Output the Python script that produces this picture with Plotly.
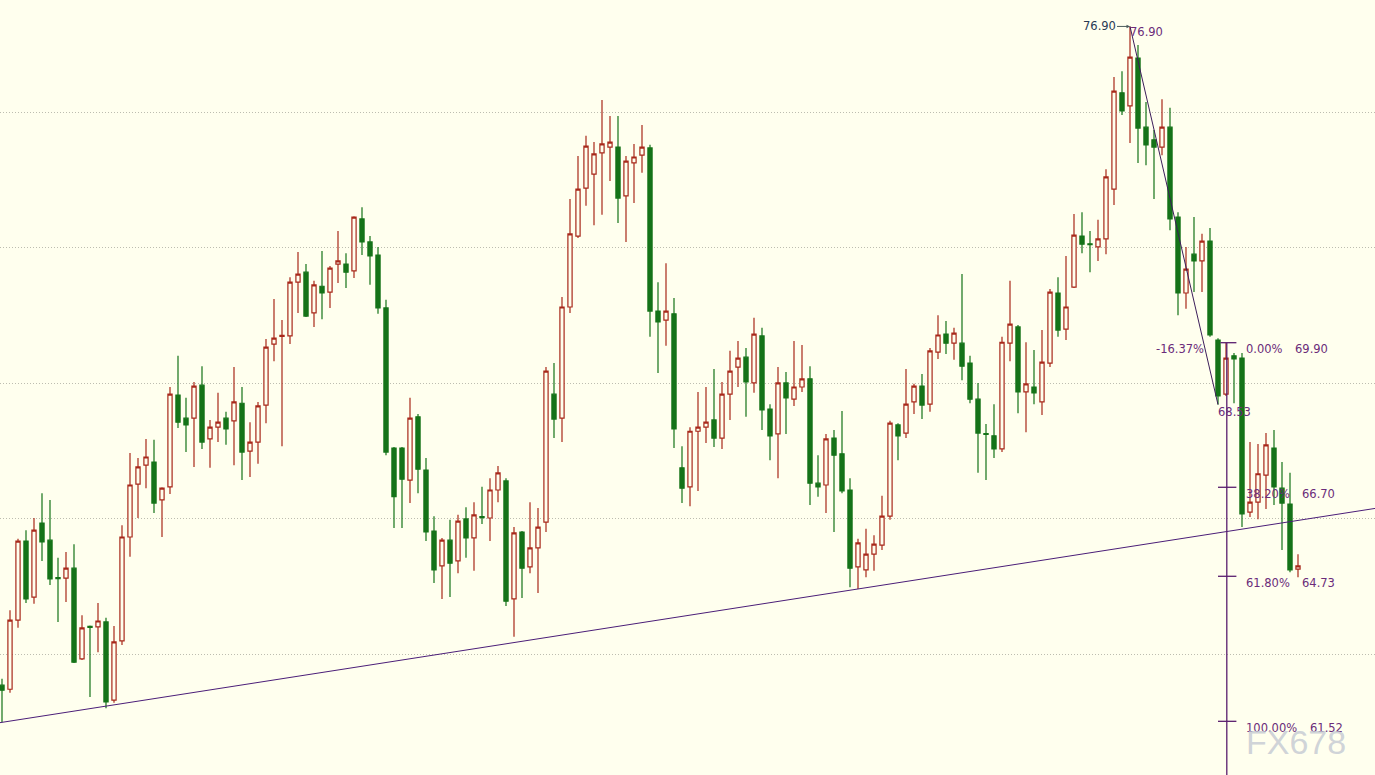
import plotly.graph_objects as go

# ---- candle data ----
opens = [62.32, 62.23, 63.76, 65.51, 64.27, 65.91, 65.53, 64.70, 64.69, 64.91,
         62.90, 63.62, 63.61, 63.72, 61.99, 63.30, 65.60, 66.77, 67.19, 67.26,
         66.42, 66.71, 68.74, 68.23, 68.23, 68.96, 67.77, 68.03, 68.23, 68.17,
         68.56, 67.50, 67.70, 68.52, 69.87, 70.04, 70.05, 71.24, 71.46, 70.56,
         71.15, 71.02, 71.64, 71.64, 71.49, 72.64, 72.13, 71.84, 70.67, 67.57,
         67.57, 66.86, 68.26, 67.08, 65.73, 64.96, 65.53, 65.07, 66.00, 65.58,
         66.05, 66.02, 66.64, 66.84, 64.23, 65.71, 64.94, 65.36, 65.93, 68.76,
         68.23, 70.69, 72.26, 73.32, 73.63, 74.10, 74.23, 74.23, 73.15, 73.88,
         74.05, 74.21, 70.60, 70.40, 70.54, 67.13, 66.71, 67.94, 68.03, 68.19,
         67.79, 68.76, 69.36, 69.58, 69.01, 70.05, 68.43, 67.88, 69.01, 68.65,
         68.92, 69.10, 66.79, 66.75, 67.79, 67.44, 66.64, 64.94, 64.87, 65.22,
         65.42, 66.06, 68.08, 67.90, 68.59, 68.94, 68.54, 69.69, 70.09, 69.89,
         69.89, 69.45, 68.65, 67.89, 67.84, 67.55, 69.89, 70.25, 68.81, 68.92,
         68.59, 69.45, 71.00, 70.20, 71.13, 72.26, 72.09, 72.02, 72.20, 73.30,
         75.43, 75.14, 76.20, 74.67, 74.39, 74.23, 74.67, 72.68, 71.00, 71.86,
         71.71, 72.15, 69.96, 68.76, 69.61, 69.56, 66.15, 66.37, 66.97, 67.57,
         66.68, 66.33, 64.89]
highs = [62.46, 63.98, 65.56, 65.75, 66.02, 66.57, 66.42, 65.14, 65.27, 65.44,
         63.87, 63.64, 64.14, 63.81, 63.63, 65.86, 67.46, 67.35, 67.77, 67.75,
         66.70, 68.92, 69.61, 68.68, 69.03, 69.38, 68.19, 68.79, 68.37, 69.36,
         68.92, 68.14, 68.59, 69.98, 70.87, 70.40, 71.35, 71.91, 71.64, 71.27,
         71.93, 71.60, 72.37, 71.88, 72.70, 72.90, 72.26, 72.02, 70.85, 67.59,
         67.59, 68.68, 68.32, 67.35, 66.06, 65.58, 65.98, 66.09, 66.26, 66.37,
         66.71, 66.90, 67.17, 66.90, 65.82, 65.73, 66.37, 66.24, 69.36, 69.45,
         70.91, 73.08, 74.03, 74.48, 74.34, 75.27, 74.92, 74.92, 74.03, 74.30,
         74.72, 74.28, 71.24, 71.66, 70.89, 67.61, 68.03, 68.81, 68.92, 69.32,
         69.03, 69.72, 69.94, 69.78, 70.45, 70.23, 68.54, 69.36, 69.25, 69.94,
         69.85, 69.38, 67.41, 67.88, 67.97, 68.39, 66.90, 65.56, 65.78, 65.64,
         66.51, 68.17, 68.12, 69.32, 68.99, 69.21, 69.78, 70.51, 70.38, 70.23,
         71.42, 69.61, 69.01, 68.10, 68.54, 70.03, 71.27, 70.29, 69.91, 69.74,
         70.18, 71.09, 71.35, 71.82, 72.75, 72.79, 72.37, 72.62, 73.74, 75.78,
         75.91, 76.90, 76.49, 75.23, 74.61, 75.29, 75.10, 72.79, 72.02, 72.68,
         72.31, 72.44, 70.00, 69.90, 69.67, 69.67, 67.70, 67.66, 67.90, 67.97,
         67.26, 67.02, 65.22]
lows = [61.50, 62.15, 63.59, 64.14, 64.12, 65.07, 64.54, 63.72, 64.16, 62.81,
        62.88, 62.06, 63.05, 61.81, 61.93, 63.21, 65.16, 66.02, 66.68, 66.13,
        65.60, 66.55, 68.01, 67.48, 67.15, 67.55, 67.13, 67.70, 67.64, 67.19,
        66.86, 66.93, 67.22, 68.12, 69.49, 67.61, 69.87, 70.56, 70.47, 70.25,
        70.42, 70.67, 71.22, 71.11, 71.33, 71.84, 71.18, 70.54, 67.41, 65.80,
        65.80, 66.35, 66.57, 65.51, 64.58, 64.23, 64.27, 64.80, 65.14, 64.85,
        65.89, 65.51, 66.37, 64.07, 63.39, 64.25, 64.80, 64.36, 65.71, 67.79,
        67.70, 70.56, 72.22, 72.93, 72.50, 72.73, 73.48, 72.55, 72.13, 72.99,
        73.66, 70.03, 69.23, 69.83, 67.57, 66.35, 66.28, 66.62, 67.68, 67.59,
        67.55, 68.19, 68.92, 68.26, 68.79, 67.97, 67.30, 66.90, 67.88, 68.50,
        68.81, 66.31, 66.49, 66.13, 65.71, 66.57, 64.49, 64.45, 64.71, 64.85,
        65.31, 65.98, 67.30, 67.79, 68.32, 68.21, 68.37, 69.54, 69.65, 69.52,
        69.07, 68.56, 67.02, 66.86, 67.35, 67.48, 69.49, 68.34, 67.92, 68.54,
        68.30, 69.36, 70.03, 69.96, 71.11, 71.88, 71.46, 71.71, 71.86, 72.95,
        74.94, 74.32, 73.88, 73.83, 73.08, 74.05, 72.39, 70.51, 70.65, 71.02,
        71.02, 70.03, 68.53, 68.72, 68.56, 65.82, 66.04, 65.99, 66.22, 66.31,
        65.31, 64.82, 64.71]
closes = [62.21, 63.76, 65.51, 64.23, 65.75, 65.49, 64.67, 64.68, 64.91, 62.83,
          63.59, 63.60, 63.74, 61.95, 63.28, 65.60, 66.75, 67.15, 67.37, 66.35,
          66.68, 68.76, 68.14, 68.08, 68.94, 67.70, 68.03, 68.14, 67.99, 68.59,
          67.48, 67.70, 68.50, 69.80, 70.00, 70.06, 71.24, 71.42, 70.49, 71.18,
          71.00, 71.55, 71.71, 71.46, 72.68, 72.13, 71.82, 70.67, 67.48, 66.49,
          66.88, 68.23, 67.10, 65.71, 64.87, 65.53, 65.02, 65.95, 65.58, 66.09,
          66.03, 66.64, 67.02, 64.18, 65.69, 64.91, 65.36, 65.82, 69.27, 68.21,
          70.69, 72.31, 73.30, 74.25, 74.08, 74.30, 74.34, 73.10, 73.92, 74.01,
          74.23, 70.60, 70.36, 70.60, 67.99, 66.68, 67.94, 68.03, 68.14, 67.79,
          68.76, 69.27, 69.56, 69.03, 70.09, 68.41, 67.84, 69.01, 68.68, 68.92,
          69.10, 66.79, 66.71, 67.77, 67.41, 66.62, 64.91, 65.47, 65.22, 65.44,
          66.06, 68.12, 67.84, 68.54, 68.94, 68.52, 69.72, 70.07, 69.89, 70.11,
          69.38, 68.65, 67.90, 67.87, 67.55, 69.91, 70.31, 68.81, 68.99, 68.79,
          69.47, 71.02, 70.18, 70.69, 72.28, 72.08, 72.07, 72.20, 73.57, 75.47,
          75.03, 76.22, 74.65, 74.28, 74.23, 74.67, 72.64, 71.00, 71.53, 71.71,
          72.15, 70.07, 68.72, 69.56, 69.54, 66.11, 66.37, 67.00, 67.64, 66.71,
          66.35, 64.87, 64.96]
bars = list(range(len(opens)))

grid_levels = [63, 66, 69, 72, 75]

# trend line (two anchor points)
trend_x = [-1, 173]
trend_y = [61.47, 66.27]

# swing line from the top to the low
swing_x = [141, 152]
swing_y = [76.90, 68.53]
high_value = 76.90
low_value = 68.53

# fibonacci retracement
fib_x = 153.1
fib_levels = [69.90, 66.70, 64.73, 61.52]
fib_pct = ["0.00%", "38.20%", "61.80%", "100.00%"]
fib_vals = ["69.90", "66.70", "64.73", "61.52"]
fib_val_x = [161.4, 162.3, 162.3, 163.2]
ext_label = "-16.37%"

RED = "#A8281A"
GREEN = "#157318"
BG = "#FFFFEE"
PURPLE = "#5A1E6E"
TXT = "#6B2C7A"

fig = go.Figure()
fig.add_trace(go.Candlestick(
    x=bars, open=opens, high=highs, low=lows, close=closes,
    increasing=dict(line=dict(color=RED, width=1.2), fillcolor=BG),
    decreasing=dict(line=dict(color=GREEN, width=1.2), fillcolor=GREEN),
    whiskerwidth=0, showlegend=False, hoverinfo="skip"))

fig.add_trace(go.Scatter(x=trend_x, y=trend_y, mode="lines",
                         line=dict(color="#4B1E78", width=1),
                         showlegend=False, hoverinfo="skip", cliponaxis=True))
fig.add_trace(go.Scatter(x=swing_x, y=swing_y, mode="lines",
                         line=dict(color="#3C1E5A", width=1),
                         showlegend=False, hoverinfo="skip"))

shapes = []
# vertical fib line
shapes.append(dict(type="line", xref="x", yref="y", x0=fib_x, x1=fib_x,
                   y0=fib_levels[0], y1=55, line=dict(color=PURPLE, width=1.3)))
for k, lv in enumerate(fib_levels):
    x0 = fib_x - 1.1 if k > 0 else fib_x - 0.8
    shapes.append(dict(type="line", xref="x", yref="y", x0=x0, x1=fib_x + 1.2,
                       y0=lv, y1=lv, line=dict(color=PURPLE, width=1.3)))

annotations = []
fnt = dict(family="DejaVu Sans", size=11.5, color=TXT)
for k, lv in enumerate(fib_levels):
    annotations.append(dict(x=155.2, y=lv, xref="x", yref="y", text=fib_pct[k],
                            showarrow=False, xanchor="left", yanchor="middle",
                            yshift=-6.5, font=fnt))
    annotations.append(dict(x=fib_val_x[k], y=lv, xref="x", yref="y", text=fib_vals[k],
                            showarrow=False, xanchor="left", yanchor="middle",
                            yshift=-6.5, font=fnt))
annotations.append(dict(x=150.5, y=fib_levels[0], xref="x", yref="y", text=ext_label,
                        showarrow=False, xanchor="right", yanchor="middle",
                        yshift=-6.5, font=fnt))
annotations.append(dict(x=swing_x[1], y=low_value, xref="x", yref="y",
                        text=f"{low_value:.2f}", showarrow=False, xanchor="left",
                        yanchor="middle", yshift=-7, xshift=-2, font=fnt))
annotations.append(dict(x=swing_x[0], y=high_value, xref="x", yref="y",
                        text=f"{high_value:.2f}", showarrow=False, xanchor="left",
                        yanchor="middle", yshift=-5.5, xshift=-2, font=fnt))
annotations.append(dict(x=swing_x[0], y=high_value, xref="x", yref="y",
                        text=f"{high_value:.2f}", showarrow=True, arrowhead=2,
                        arrowsize=0.7, arrowwidth=1, arrowcolor="#4A5A5A",
                        ax=-31, ay=0, font=dict(family="DejaVu Sans", size=11.5,
                                                color="#2A3A55")))
annotations.append(dict(x=0.9425, y=0.043, xref="paper", yref="paper", text="FX678",
                        showarrow=False, xanchor="center", yanchor="middle",
                        font=dict(family="Liberation Sans", size=34,
                                  color="rgba(195,200,210,0.8)")))

fig.update_layout(
    width=1375, height=775,
    margin=dict(l=0, r=0, t=0, b=0),
    paper_bgcolor=BG, plot_bgcolor=BG,
    shapes=shapes, annotations=annotations,
    boxgap=0.25,
    xaxis=dict(range=[-0.25, 171.625], showgrid=False, zeroline=False,
               showticklabels=False, showline=False, ticks="",
               rangeslider=dict(visible=False)),
    yaxis=dict(range=[60.332, 77.485], tickvals=grid_levels, showticklabels=False,
               showgrid=True, gridcolor="#BDBDB0", griddash="1px,2px", gridwidth=1,
               zeroline=False, showline=False, ticks=""),
)

fig.write_html("out.html", config={"displayModeBar": False},
               post_script="document.body.style.margin='0';document.body.style.padding='0';")
